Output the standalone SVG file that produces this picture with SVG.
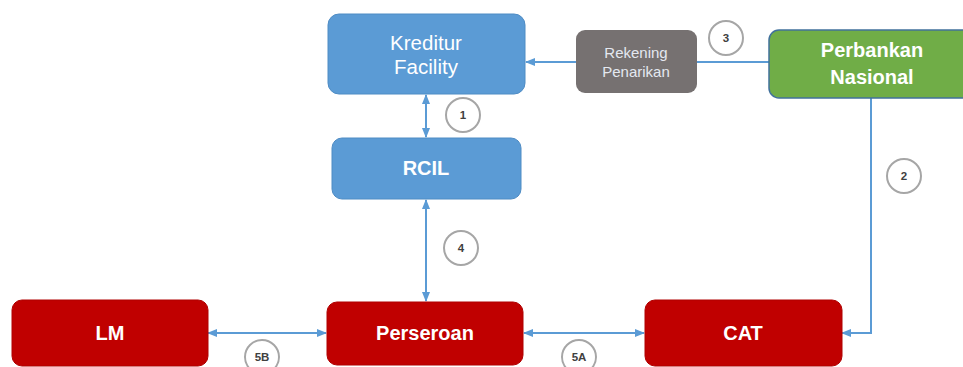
<svg xmlns="http://www.w3.org/2000/svg" width="963" height="367" viewBox="0 0 963 367">
<defs>
<style>
.blue{fill:#5B9BD5;stroke:#4F8CC4;stroke-width:1}
.red{fill:#C00000;stroke:#B00000;stroke-width:1}
.grey{fill:#767171}
.green{fill:#70AD47;stroke:#41719C;stroke-width:1.5}
.t{font-family:"Liberation Sans",Arial,sans-serif;fill:#fff;text-anchor:middle}
.b{font-weight:bold;font-size:20px}
.r{font-size:20.5px}
.s{font-size:15px;fill:#E4E8F0}
.c{fill:#fff;stroke:#A6A6A6;stroke-width:2}
.n{font-family:"Liberation Sans",Arial,sans-serif;font-size:11.5px;font-weight:bold;fill:#404040;text-anchor:middle}
.ln{fill:none;stroke:#5B9BD5;stroke-width:2}
</style>
<marker id="ah" viewBox="0 0 10 10" refX="9" refY="5" markerWidth="5" markerHeight="5" orient="auto-start-reverse" markerUnits="strokeWidth">
<path d="M0,1 L10,5 L0,9 z" fill="#5B9BD5"/>
</marker>
</defs>
<g id="connectors">
<line class="ln" x1="769" y1="62" x2="697" y2="62"/>
<line class="ln" x1="576" y1="62" x2="526" y2="62" marker-end="url(#ah)"/>
<line class="ln" x1="426" y1="95" x2="426" y2="137" marker-start="url(#ah)" marker-end="url(#ah)"/>
<line class="ln" x1="426" y1="200" x2="426" y2="301" marker-start="url(#ah)" marker-end="url(#ah)"/>
<polyline class="ln" points="871,98 871,333 842,333" marker-end="url(#ah)"/>
<line class="ln" x1="208" y1="333" x2="326" y2="333" marker-start="url(#ah)" marker-end="url(#ah)"/>
<line class="ln" x1="524" y1="333" x2="644" y2="333" marker-start="url(#ah)" marker-end="url(#ah)"/>
</g>
<g id="kreditur">
<rect class="blue" x="328" y="14" width="197" height="80" rx="11"/>
<text class="t r" x="426" y="50">Kreditur</text>
<text class="t r" x="426" y="74">Facility</text>
</g>
<g id="rekening">
<rect class="grey" x="576" y="30" width="121" height="63" rx="9"/>
<text class="t s" x="636" y="58">Rekening</text>
<text class="t s" x="636" y="77">Penarikan</text>
</g>
<g id="perbankan">
<rect class="green" x="769" y="30" width="210" height="68" rx="10"/>
<text class="t b" x="872" y="57">Perbankan</text>
<text class="t b" x="872" y="84">Nasional</text>
</g>
<g id="rcil">
<rect class="blue" x="332" y="138" width="189" height="61" rx="10"/>
<text class="t b" x="426" y="175">RCIL</text>
</g>
<g id="lm">
<rect class="red" x="12" y="300" width="196" height="66" rx="10"/>
<text class="t b" x="110" y="340">LM</text>
</g>
<g id="perseroan">
<rect class="red" x="327" y="302" width="196" height="63" rx="10"/>
<text class="t b" x="425" y="340">Perseroan</text>
</g>
<g id="cat">
<rect class="red" x="645" y="300" width="197" height="66" rx="10"/>
<text class="t b" x="743" y="340">CAT</text>
</g>
<g id="label-1"><circle class="c" cx="463" cy="115" r="17"/><text class="n" x="463" y="119">1</text></g>
<g id="label-2"><circle class="c" cx="904" cy="176" r="17"/><text class="n" x="904" y="180">2</text></g>
<g id="label-3"><circle class="c" cx="726" cy="38" r="17"/><text class="n" x="726" y="42">3</text></g>
<g id="label-4"><circle class="c" cx="461" cy="248" r="17"/><text class="n" x="461" y="252">4</text></g>
<g id="label-5b"><circle class="c" cx="262" cy="357" r="17"/><text class="n" x="262" y="361">5B</text></g>
<g id="label-5a"><circle class="c" cx="579" cy="357" r="17"/><text class="n" x="579" y="361">5A</text></g>
</svg>
